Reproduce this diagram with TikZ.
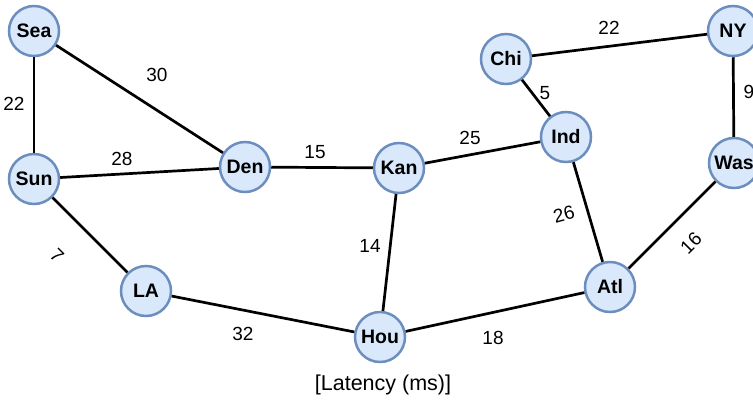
\documentclass[tikz,border=0pt]{standalone}
\usepackage{fontspec}
\setmainfont{Liberation Sans}
\begin{document}
\begin{tikzpicture}[x=1pt,y=-1pt,
  city/.style={circle, draw=cityedge, fill=cityfill, line width=2.5pt,
    minimum size=50pt, inner sep=0pt,
    font=\fontsize{19.5}{22}\selectfont\bfseries},
  link/.style={line width=2.7pt, black},
  weight/.style={inner sep=1pt, font=\fontsize{19}{22}\selectfont},
  caption/.style={font=\fontsize{21.5}{24}\selectfont}]
\definecolor{cityfill}{HTML}{DAE8FC}
\definecolor{cityedge}{HTML}{6C8EBF}
\useasboundingbox (0,0) rectangle (753,408);

% cities
\node[city] (sea) at (34,31)   {Sea};
\node[city] (sun) at (34,179)  {Sun};
\node[city] (den) at (245,167) {Den};
\node[city] (kan) at (399,168) {Kan};
\node[city] (chi) at (506,59)  {Chi};
\node[city] (ind) at (566,137) {Ind};
\node[city] (ny)  at (733,31)  {NY};
\node[city] (was) at (734,163) {Was};
\node[city] (la)  at (146,291) {LA};
\node[city] (hou) at (380,337) {Hou};
\node[city] (atl) at (610,287) {Atl};

% links
\draw[link] (sea) -- (sun);
\draw[link] (sea) -- (den);
\draw[link] (sun) -- (den);
\draw[link] (den) -- (kan);
\draw[link] (kan) -- (ind);
\draw[link] (chi) -- (ind);
\draw[link] (chi) -- (ny);
\draw[link] (ny)  -- (was);
\draw[link] (sun) -- (la);
\draw[link] (kan) -- (hou);
\draw[link] (ind) -- (atl);
\draw[link] (was) -- (atl);
\draw[link] (la)  -- (hou);
\draw[link] (hou) -- (atl);

% latencies
\node[weight] (w1)  at (14,104)  {22};
\node[weight] (w2)  at (157,75)  {30};
\node[weight] (w3)  at (122,159) {28};
\node[weight] (w4)  at (315,152) {15};
\node[weight] (w5)  at (470,138) {25};
\node[weight] (w6)  at (545,93)  {5};
\node[weight] (w7)  at (609,28)  {22};
\node[weight] (w8)  at (749,92)  {9};
\node[weight, rotate=-45] (w9)  at (57,256)  {7};
\node[weight] (w10) at (370,246) {14};
\node[weight, rotate=15] (w11) at (564,214) {26};
\node[weight, rotate=45] (w12) at (691,243) {16};
\node[weight] (w13) at (243,334) {32};
\node[weight] (w14) at (493,338) {18};

\node[caption] (cap) at (383,385) {[Latency (ms)]};
\end{tikzpicture}
\end{document}
